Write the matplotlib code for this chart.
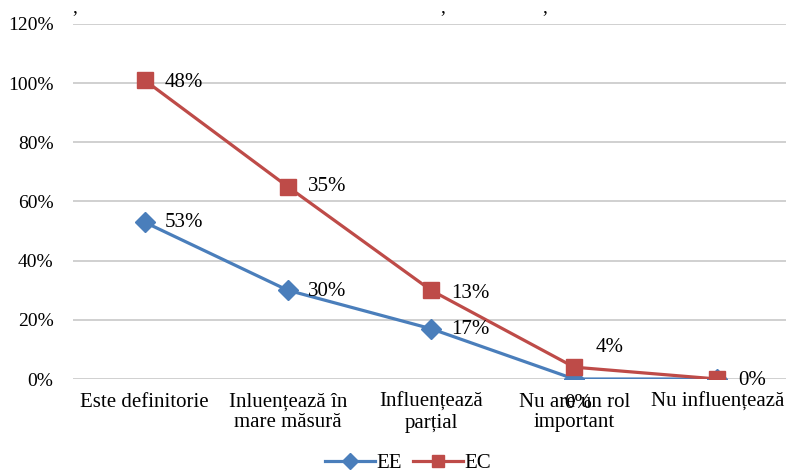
import numpy as np
import matplotlib.pyplot as plt
from matplotlib.ticker import PercentFormatter

plt.rcParams['font.family'] = ['Liberation Serif', 'DejaVu Serif']

categories = ['Este definitorie', 'Inluențează în\nmare măsură', 'Influențează\nparțial',
              'Nu are un rol\nimportant', 'Nu influențează']
ee = [53, 30, 17, 0, 0]
ec = [48, 35, 13, 4, 0]

ee = np.array(ee)
ec = np.array(ec)
ec_stack = ee + ec
x = np.arange(len(categories))

fig = plt.figure(figsize=(7.86, 4.74), dpi=100)
ax = fig.add_axes([73 / 786, 0.2004, 716 / 786, 0.749])

ax.plot(x, ee, color='#4A7EBB', lw=2.3, marker='D', ms=10, label='EE', zorder=3)
ax.plot(x, ec_stack, color='#BE4B48', lw=2.3, marker='s', ms=11, label='EC', zorder=3)

# etichete de date (deplasari in pixeli)
ee_off = [(20, 0), (20, -1), (20, -1), (-10, -24), None]
ec_off = [(20, -2), (20, 0), (20, -3), (21, 20), (21, -1)]
for i in range(len(x)):
    if ee_off[i] is not None:
        ax.annotate(f'{ee[i]}%', (x[i], ee[i]), xytext=ee_off[i], textcoords='offset pixels',
                    va='center', ha='left', fontsize=15, zorder=4)
    ax.annotate(f'{ec[i]}%', (x[i], ec_stack[i]), xytext=ec_off[i], textcoords='offset pixels',
                va='center', ha='left', fontsize=15, zorder=4)

ax.set_xlim(-0.5, 4.5)
ax.set_ylim(0, 120)
ax.set_yticks(np.arange(0, 121, 20))
ax.yaxis.set_major_formatter(PercentFormatter(decimals=0))
ax.set_xticks(x)
ax.set_xticklabels(categories, fontsize=15, linespacing=1.1)
ax.tick_params(axis='y', length=0, labelsize=14, pad=14)
ax.tick_params(axis='x', length=0, pad=10)
ax.grid(axis='y', color='#C8C8C8', lw=1.2)
ax.set_axisbelow(True)
for s in ax.spines.values():
    s.set_visible(False)

ax.legend(loc='center', bbox_to_anchor=(0.468, -0.237), ncol=2, frameon=False,
          fontsize=15, handlelength=2.4, columnspacing=0.5, handletextpad=0.1,
          borderaxespad=0, markerscale=0.8)

for xp in [75, 443, 545]:
    fig.text(xp / 786, 1 - 8 / 474, ',', fontsize=14, ha='center', va='center')

fig.savefig('out.png', dpi=100)
